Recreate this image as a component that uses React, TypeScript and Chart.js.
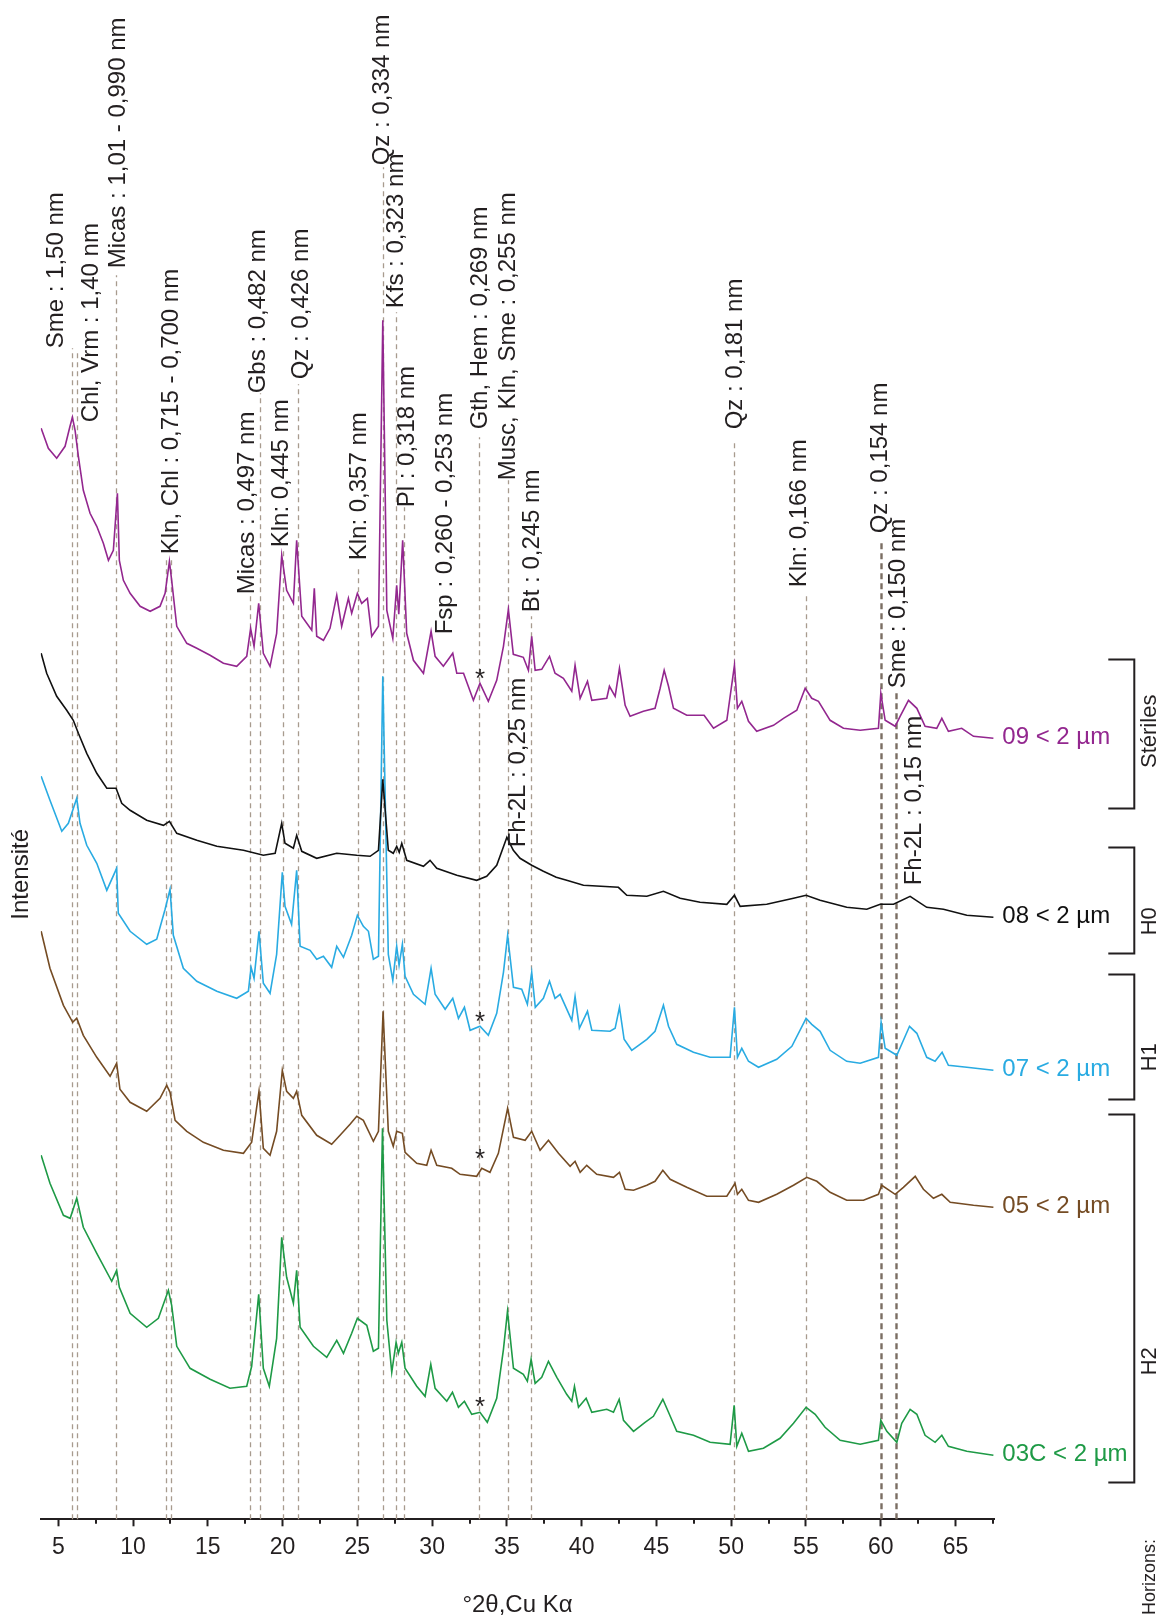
import { useEffect, useRef } from 'react';
import { Chart, registerables } from 'chart.js';

Chart.register(...registerables);

const FONT = "'Liberation Sans', Arial, Helvetica, sans-serif";
const NARROW = "'Liberation Sans Narrow', 'Arial Narrow', 'Liberation Sans', Arial, sans-serif";
const INK = '#231f20';

// x range (°2θ) and stacked-intensity range (arbitrary units, patterns offset for display)
const X_MIN = 3.82;
const X_MAX = 67.6;
const Y_MAX = 1519.3;
const tickValues = [5, 10, 15, 20, 25, 30, 35, 40, 45, 50, 55, 60, 65];

// ---------- 09 < 2 µm (Stériles) ----------
const theta09 = [3.85, 4.33, 4.89, 5.45, 5.78, 5.94, 6.12, 6.34, 6.67, 7.12, 7.57, 8.01, 8.35, 8.68, 8.95, 9.08, 9.35, 9.8, 10.47, 11.14, 11.8, 12.14, 12.43, 12.58, 12.92, 13.59, 14.26, 15.15, 16.04, 16.93, 17.6, 17.86, 18.09, 18.4, 18.71, 19.16, 19.6, 19.94, 20.27, 20.72, 20.94, 21.28, 21.95, 22.12, 22.28, 22.73, 23.17, 23.62, 23.95, 24.4, 24.62, 25.0, 25.29, 25.67, 25.96, 26.41, 26.7, 26.97, 27.37, 27.63, 27.77, 28.03, 28.3, 28.75, 29.42, 29.93, 30.2, 30.75, 31.38, 31.65, 32.1, 32.76, 33.2, 33.76, 34.32, 34.77, 35.1, 35.43, 36.1, 36.44, 36.66, 36.89, 37.33, 37.85, 38.22, 38.78, 39.34, 39.56, 39.9, 40.39, 40.68, 41.68, 41.86, 42.24, 42.53, 42.91, 43.24, 44.13, 44.91, 45.25, 45.52, 45.81, 46.14, 47.03, 48.19, 48.82, 49.71, 50.22, 50.42, 50.71, 51.16, 51.71, 52.83, 53.5, 54.39, 54.95, 55.39, 55.84, 56.62, 57.51, 58.63, 59.85, 60.01, 60.3, 60.97, 61.3, 61.86, 62.42, 62.97, 63.75, 64.09, 64.53, 65.42, 66.21, 67.54];
const int09 = [1091, 1071, 1061, 1073, 1093, 1102, 1089, 1063, 1029, 1006, 993, 976, 959, 969, 1026, 959, 939, 926, 913, 908, 913, 926, 958, 939, 893, 876, 871, 864, 856, 853, 863, 891, 873, 916, 866, 853, 886, 964, 929, 916, 979, 903, 889, 931, 883, 879, 891, 924, 893, 921, 906, 926, 916, 921, 883, 893, 1199, 909, 881, 934, 905, 979, 886, 859, 846, 888, 863, 853, 866, 846, 846, 819, 836, 818, 839, 873, 910, 865, 862, 849, 883, 849, 850, 863, 846, 841, 828, 854, 821, 838, 819, 821, 833, 823, 851, 814, 803, 808, 811, 831, 849, 833, 811, 804, 804, 791, 799, 854, 811, 818, 798, 788, 794, 801, 809, 831, 821, 818, 799, 791, 789, 791, 826, 799, 793, 803, 819, 811, 793, 791, 801, 788, 791, 783, 781];

// ---------- 08 < 2 µm (H0) ----------
const theta08 = [3.85, 4.22, 4.89, 5.56, 6.0, 6.34, 6.9, 7.57, 8.24, 8.86, 9.24, 9.8, 10.91, 12.03, 12.43, 12.92, 14.26, 15.6, 17.38, 18.71, 19.5, 19.94, 20.16, 20.72, 20.94, 21.28, 22.28, 23.62, 24.96, 25.85, 26.41, 26.7, 27.07, 27.4, 27.63, 27.8, 27.97, 28.3, 29.42, 29.86, 30.31, 31.65, 32.98, 33.65, 34.32, 35.0, 35.43, 35.88, 36.66, 37.44, 38.3, 39.0, 40.12, 42.46, 43.02, 44.36, 45.47, 46.59, 47.92, 49.71, 50.22, 50.6, 52.38, 54.17, 55.01, 55.95, 57.73, 59.07, 59.97, 60.86, 61.97, 63.08, 64.2, 65.76, 67.54];
const int08 = [866, 846, 823, 809, 799, 786, 766, 746, 731, 731, 716, 709, 699, 694, 698, 686, 679, 673, 669, 664, 666, 696, 676, 671, 684, 668, 661, 666, 664, 663, 669, 740, 669, 666, 673, 667, 676, 659, 653, 659, 651, 644, 639, 643, 654, 682, 669, 661, 654, 648, 642, 639, 634, 632, 624, 623, 628, 621, 617, 615, 624, 613, 615, 621, 624, 619, 612, 610, 615, 615, 623, 612, 610, 604, 602];

// ---------- 07 < 2 µm (H1) ----------
const theta07 = [3.85, 4.44, 5.23, 5.67, 6.23, 6.45, 6.9, 7.57, 8.24, 8.9, 9.01, 9.8, 10.91, 11.58, 12.14, 12.47, 12.69, 13.36, 14.26, 15.6, 16.93, 17.71, 17.89, 18.09, 18.42, 18.71, 19.16, 19.6, 19.98, 20.16, 20.6, 20.94, 21.17, 21.84, 22.28, 22.73, 23.28, 23.62, 24.07, 24.62, 25.0, 25.4, 25.74, 26.07, 26.41, 26.7, 27.07, 27.37, 27.63, 27.79, 28.01, 28.19, 28.75, 29.53, 29.93, 30.2, 30.87, 31.38, 31.76, 32.16, 32.54, 33.2, 33.76, 34.32, 34.77, 35.05, 35.44, 35.99, 36.37, 36.66, 36.9, 37.44, 37.85, 38.22, 38.56, 39.34, 39.56, 39.85, 40.39, 40.68, 41.9, 42.24, 42.53, 42.84, 43.35, 44.36, 44.91, 45.47, 45.81, 46.36, 47.48, 48.59, 49.93, 50.22, 50.42, 50.71, 51.16, 51.83, 53.05, 54.06, 55.01, 55.39, 55.95, 56.62, 57.73, 58.63, 59.85, 60.03, 60.3, 61.08, 61.93, 62.42, 63.08, 63.64, 64.11, 64.53, 65.76, 67.54];
const int07 = [743, 719, 688, 696, 721, 696, 674, 656, 629, 651, 606, 588, 575, 580, 610, 630, 584, 551, 538, 528, 521, 528, 552, 541, 588, 536, 526, 565, 647, 613, 595, 649, 573, 569, 560, 563, 552, 573, 562, 584, 604, 593, 588, 560, 563, 843, 565, 539, 573, 554, 575, 543, 525, 515, 551, 525, 510, 521, 501, 512, 489, 493, 484, 506, 547, 584, 532, 530, 515, 547, 512, 521, 538, 521, 525, 499, 523, 491, 508, 489, 488, 491, 512, 480, 469, 480, 488, 514, 493, 475, 467, 462, 462, 512, 462, 471, 458, 452, 460, 473, 501, 495, 488, 469, 458, 456, 462, 497, 471, 464, 493, 486, 462, 458, 467, 454, 452, 449];

// ---------- 05 < 2 µm (H2) ----------
const theta05 = [3.85, 4.44, 5.34, 5.96, 6.23, 6.67, 7.57, 8.46, 8.9, 9.12, 9.8, 10.91, 11.8, 12.25, 12.47, 12.81, 13.59, 14.7, 16.04, 17.38, 17.93, 18.42, 18.71, 19.16, 19.6, 19.98, 20.27, 20.72, 20.94, 21.28, 22.28, 23.28, 23.84, 24.51, 24.96, 25.4, 26.07, 26.41, 26.72, 27.07, 27.4, 27.63, 28.01, 28.19, 28.97, 29.64, 29.93, 30.31, 31.31, 31.87, 32.98, 33.32, 33.87, 34.43, 35.05, 35.44, 36.22, 36.66, 37.22, 37.78, 38.45, 39.23, 39.56, 39.9, 40.34, 41.01, 42.13, 42.53, 42.91, 43.47, 44.36, 44.91, 45.43, 45.92, 47.03, 48.37, 49.71, 50.26, 50.42, 50.71, 51.16, 51.83, 53.05, 54.17, 55.06, 55.73, 56.62, 57.73, 58.85, 59.85, 60.07, 60.97, 61.52, 62.31, 62.86, 63.53, 64.09, 64.65, 66.21, 67.54];
const int05 = [588, 551, 514, 497, 501, 484, 462, 443, 456, 430, 417, 408, 421, 434, 427, 399, 388, 377, 369, 366, 377, 428, 371, 364, 388, 449, 428, 421, 428, 404, 384, 375, 384, 395, 403, 399, 378, 388, 508, 388, 373, 388, 386, 367, 356, 354, 369, 354, 351, 345, 343, 351, 347, 366, 411, 382, 379, 388, 369, 379, 366, 353, 358, 347, 354, 345, 342, 347, 330, 329, 334, 338, 349, 340, 332, 323, 323, 336, 325, 330, 319, 317, 325, 334, 342, 338, 327, 319, 319, 325, 334, 325, 332, 343, 330, 321, 325, 317, 314, 312];

// ---------- 03C < 2 µm (H2) ----------
const theta03C = [3.85, 4.44, 5.34, 5.79, 6.23, 6.67, 7.57, 8.57, 8.9, 9.08, 9.8, 10.91, 11.69, 12.36, 12.58, 12.92, 13.81, 15.15, 16.48, 17.6, 17.93, 18.4, 18.71, 19.11, 19.6, 19.94, 20.27, 20.72, 20.94, 21.17, 22.06, 22.95, 23.62, 24.07, 24.62, 25.0, 25.63, 26.07, 26.41, 26.68, 26.97, 27.3, 27.59, 27.74, 27.97, 28.19, 28.97, 29.53, 29.91, 30.2, 30.98, 31.36, 31.76, 32.16, 32.65, 33.2, 33.69, 34.32, 34.77, 35.04, 35.44, 36.1, 36.37, 36.62, 36.89, 37.33, 37.78, 38.34, 39.0, 39.34, 39.52, 39.79, 40.3, 40.68, 41.68, 42.13, 42.51, 42.8, 43.47, 44.24, 44.8, 45.43, 45.81, 46.36, 47.48, 48.59, 49.93, 50.2, 50.38, 50.71, 51.16, 52.16, 53.27, 54.17, 55.01, 55.62, 56.28, 57.29, 58.63, 59.85, 60.01, 60.41, 61.08, 61.41, 61.97, 62.42, 62.97, 63.64, 64.09, 64.53, 65.76, 67.54];
const int03C = [364, 336, 304, 301, 321, 292, 266, 238, 249, 232, 206, 192, 201, 229, 214, 173, 151, 140, 131, 133, 153, 225, 151, 133, 181, 282, 242, 216, 249, 192, 173, 162, 179, 166, 186, 201, 194, 168, 171, 391, 199, 147, 177, 166, 177, 151, 133, 123, 155, 131, 118, 127, 112, 118, 105, 107, 97, 121, 170, 208, 151, 145, 138, 160, 136, 142, 158, 142, 125, 118, 133, 112, 121, 107, 110, 107, 120, 99, 88, 97, 103, 120, 107, 88, 84, 77, 75, 114, 73, 86, 68, 71, 81, 96, 112, 105, 92, 79, 75, 79, 99, 88, 77, 96, 110, 105, 84, 77, 84, 73, 68, 64];

const seriesNames = ['09 < 2 µm', '08 < 2 µm', '07 < 2 µm', '05 < 2 µm', '03C < 2 µm'];
const seriesColors = ['#93278f', '#111111', '#29abe2', '#754c24', '#1e9a46'];
const seriesTheta = [theta09, theta08, theta07, theta05, theta03C];
const seriesInt = [int09, int08, int07, int05, int03C];

// ---------- reference reflections (dashed lines) ----------
const lineTheta = [5.94, 6.27, 8.86, 12.2, 12.54, 17.85, 18.47, 20.0, 21.01, 25.02, 26.7, 27.59, 28.12, 33.16, 35.05, 36.64, 50.2, 55.02, 60.0, 61.0];
const lineTop = [1171, 1169, 1244, 961, 961, 923, 1126, 968, 1135, 954, 1352, 1207, 1012, 1082, 1039, 903, 1077, 925, 979, 827];
const lineBold = [false, false, false, false, false, false, false, false, false, false, false, false, false, false, false, false, false, false, true, true];

// ---------- mineral labels ----------
const labelText = ['Sme : 1,50 nm', 'Chl, Vrm : 1,40 nm', 'Micas : 1,01 - 0,990 nm', 'Kln, Chl : 0,715 - 0,700 nm', 'Micas : 0,497 nm', 'Gbs : 0,482 nm', 'Kln: 0,445 nm', 'Qz : 0,426 nm', 'Kln: 0,357 nm', 'Qz : 0,334 nm', 'Kfs : 0,323 nm', 'Pl : 0,318 nm', 'Fsp : 0,260 - 0,253 nm', 'Gth, Hem : 0,269 nm', 'Musc, Kln, Sme : 0,255 nm', 'Fh-2L : 0,25 nm', 'Bt : 0,245 nm', 'Qz : 0,181 nm', 'Kln: 0,166 nm', 'Qz : 0,154 nm', 'Sme : 0,150 nm', 'Fh-2L : 0,15 nm'];
const labelTheta = [4.85, 7.19, 9.0, 12.54, 17.62, 18.36, 19.9, 21.24, 25.11, 26.65, 27.59, 28.32, 30.86, 33.2, 35.07, 35.74, 36.68, 50.26, 54.54, 59.96, 61.16, 62.23];
const labelBase = [1171, 1097, 1251, 965, 925, 1126, 972, 1140, 959, 1354, 1211, 1012, 885, 1090, 1039, 672, 907, 1090, 932, 986, 831, 634];

// unidentified reflection markers (*) at 33.2 °2θ
const starTheta = 33.2;
const starLevel = [846, 503, 366, 118];

// horizons
const horizonNames = ['Stériles', 'H0', 'H1', 'H2'];
const horizonTop = [860, 672, 545, 405];
const horizonBottom = [711, 566, 420, 37];
const horizonTextLevel = [788, 598, 462, 158];

const overlay = {
  id: 'overlay',
  beforeDatasetsDraw(chart: any) {
    const { ctx, scales } = chart;
    const x = scales.x;
    const y = scales.y;
    ctx.save();
    lineTheta.forEach((t, i) => {
      const px = Math.round(x.getPixelForValue(t)) + 0.5;
      ctx.beginPath();
      ctx.setLineDash(lineBold[i] ? [6, 4] : [5, 4]);
      ctx.lineWidth = lineBold[i] ? 2.4 : 1.3;
      ctx.strokeStyle = lineBold[i] ? '#7b6e63' : '#a89b8e';
      ctx.moveTo(px, y.getPixelForValue(0));
      ctx.lineTo(px, y.getPixelForValue(lineTop[i]));
      ctx.stroke();
    });
    ctx.restore();
  },
  afterDraw(chart: any) {
    const { ctx, scales, chartArea } = chart;
    const x = scales.x;
    const y = scales.y;
    ctx.save();
    // minor ticks
    ctx.strokeStyle = INK;
    ctx.lineWidth = 2;
    const axisY = chartArea.bottom;
    for (let v = 7.5; v <= 67.5; v += 5) {
      const px = Math.round(x.getPixelForValue(v));
      ctx.beginPath();
      ctx.moveTo(px, axisY);
      ctx.lineTo(px, axisY + 4.5);
      ctx.stroke();
    }
    // mineral labels (rotated)
    ctx.fillStyle = INK;
    ctx.font = `24px ${FONT}`;
    ctx.textAlign = 'left';
    ctx.textBaseline = 'middle';
    labelText.forEach((txt, i) => {
      ctx.save();
      ctx.translate(x.getPixelForValue(labelTheta[i]), y.getPixelForValue(labelBase[i]));
      ctx.rotate(-Math.PI / 2);
      ctx.fillText(txt, 0, 0);
      ctx.restore();
    });
    // stars
    ctx.textAlign = 'center';
    ctx.textBaseline = 'alphabetic';
    ctx.font = `26px ${FONT}`;
    starLevel.forEach((lv) => {
      ctx.fillText('*', x.getPixelForValue(starTheta), y.getPixelForValue(lv) + 14);
    });
    // series labels at right end of each pattern
    ctx.font = `24px ${FONT}`;
    ctx.textAlign = 'left';
    ctx.textBaseline = 'middle';
    seriesNames.forEach((n, i) => {
      const vals = seriesInt[i];
      ctx.fillStyle = seriesColors[i];
      ctx.fillText(n, chartArea.right + 8, y.getPixelForValue(vals[vals.length - 1]) - 1);
    });
    // horizon brackets
    ctx.strokeStyle = INK;
    ctx.lineWidth = 2;
    ctx.fillStyle = INK;
    const bx = chartArea.right + 140;
    const bl = chartArea.right + 114;
    ctx.font = `22px ${NARROW}`;
    horizonNames.forEach((n, i) => {
      const t = Math.round(y.getPixelForValue(horizonTop[i])) + 0.5;
      const b = Math.round(y.getPixelForValue(horizonBottom[i])) + 0.5;
      ctx.beginPath();
      ctx.moveTo(bl, t);
      ctx.lineTo(bx, t);
      ctx.lineTo(bx, b);
      ctx.lineTo(bl, b);
      ctx.stroke();
      ctx.save();
      ctx.translate(bx + 16, y.getPixelForValue(horizonTextLevel[i]));
      ctx.rotate(-Math.PI / 2);
      ctx.textAlign = 'center';
      ctx.textBaseline = 'middle';
      ctx.fillText(n, 0, 0);
      ctx.restore();
    });
    ctx.save();
    ctx.font = `18px ${NARROW}`;
    ctx.translate(bx + 16, 1577);
    ctx.rotate(-Math.PI / 2);
    ctx.textAlign = 'center';
    ctx.textBaseline = 'middle';
    ctx.fillText('Horizons:', 0, 0);
    ctx.restore();
    // y title
    ctx.save();
    ctx.font = `24px ${FONT}`;
    ctx.translate(21, y.getPixelForValue(645));
    ctx.rotate(-Math.PI / 2);
    ctx.textAlign = 'center';
    ctx.textBaseline = 'middle';
    ctx.fillText('Intensité', 0, 0);
    ctx.restore();
    ctx.restore();
  },
};

export default function App() {
  const ref = useRef<HTMLCanvasElement | null>(null);
  useEffect(() => {
    if (!ref.current) return;
    const chart = new Chart(ref.current, {
      type: 'line',
      data: {
        datasets: seriesNames.map((n, i) => ({
          label: n,
          data: seriesTheta[i].map((t, j) => ({ x: t, y: seriesInt[i][j] })),
          borderColor: seriesColors[i],
          backgroundColor: seriesColors[i],
          borderWidth: 1.6,
          pointRadius: 0,
          tension: 0,
          fill: false,
        })),
      },
      options: {
        responsive: false,
        animation: false,
        devicePixelRatio: 1,
        events: [],
        parsing: false,
        layout: { padding: { left: 40.7, right: 169.7, top: 0, bottom: 0 } },
        plugins: { legend: { display: false }, tooltip: { enabled: false } },
        scales: {
          x: {
            type: 'linear',
            min: X_MIN,
            max: X_MAX,
            border: { display: true, color: INK, width: 2 },
            grid: { display: true, drawOnChartArea: false, drawTicks: true, tickLength: 7, tickWidth: 2, tickColor: INK },
            ticks: { padding: 8, color: INK, font: { family: FONT, size: 23 }, maxRotation: 0, autoSkip: false, callback: (v: any) => String(v) },
            afterBuildTicks: (axis: any) => {
              axis.ticks = tickValues.map((v) => ({ value: v }));
            },
            title: { display: true, text: '°2θ,Cu Kα', color: INK, font: { family: FONT, size: 24 }, padding: { top: 20.7, bottom: 0.6 } },
          },
          y: { type: 'linear', display: false, min: 0, max: Y_MAX },
        },
      } as any,
      plugins: [overlay],
    });
    return () => chart.destroy();
  }, []);
  return (
    <div style={{ position: 'absolute', left: 0, top: 0, width: 1164, height: 1620, background: '#fff' }}>
      <canvas ref={ref} width={1164} height={1620} style={{ display: 'block' }} />
    </div>
  );
}
